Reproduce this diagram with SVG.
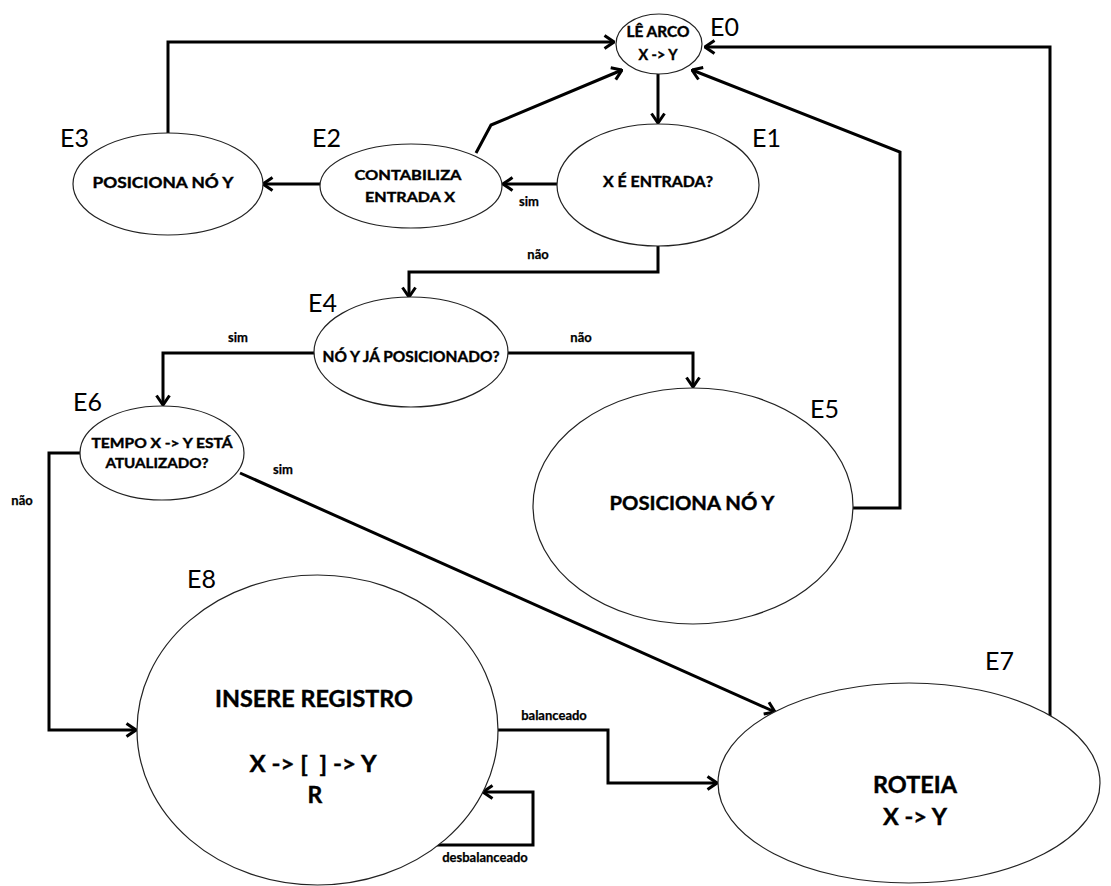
<svg xmlns="http://www.w3.org/2000/svg" width="1111" height="886" viewBox="0 0 1111 886">
  <defs>
    <marker id="arrow" viewBox="0 0 12 16" refX="11" refY="8" markerWidth="12" markerHeight="16" markerUnits="userSpaceOnUse" orient="auto">
      <path d="M1.5,1.5 L11,8 L1.5,14.5" fill="none" stroke="#000" stroke-width="3" stroke-linejoin="miter"/>
    </marker>
    <style>
      .state { fill: #fff; stroke: #222; stroke-width: 1.2; }
      .txt { font-family: Lato, "Liberation Sans", sans-serif; font-weight: bold; fill: #000; stroke: #000; stroke-width: 0.4; text-anchor: middle; }
      .tag { font-family: Lato, "Liberation Sans", sans-serif; font-size: 25px; fill: #000; }
      .lbl { font-family: Lato, "Liberation Sans", sans-serif; font-weight: bold; font-size: 13px; fill: #000; stroke: #000; stroke-width: 0.25; text-anchor: middle; }
      .edge { fill: none; stroke: #000; stroke-width: 3; marker-end: url(#arrow); }
    </style>
  </defs>
  <rect width="1111" height="886" fill="#fff"/>

  <!-- connectors and their labels -->
  <g id="connectors">
    <path class="edge" d="M168,133 L168,42 L614,42"/>
    <path class="edge" d="M476,153 L491,125 L622,70"/>
    <path class="edge" d="M658,74 L658,123"/>
    <path class="edge" d="M853,508 L900,508 L900,152 L692,70"/>
    <path class="edge" d="M1050,716 L1050,47 L705,47"/>
    <path class="edge" d="M557,184 L503,184"/>
    <path class="edge" d="M320,184 L263,184"/>
    <path class="edge" d="M658,246 L658,272 L409,272 L409,297"/>
    <path class="edge" d="M315,353 L163,353 L163,405"/>
    <path class="edge" d="M508,353 L693,353 L693,387"/>
    <path class="edge" d="M80,453 L49,453 L49,730 L136,730"/>
    <path class="edge" d="M240,473 L775,712"/>
    <path class="edge" d="M498,730 L608,730 L608,783 L717,783"/>
    <path class="edge" d="M433,845 L533,845 L533,792 L483,792"/>

    <text class="lbl" x="529" y="206">sim</text>
    <text class="lbl" x="538" y="259">não</text>
    <text class="lbl" x="238" y="342">sim</text>
    <text class="lbl" x="581" y="342">não</text>
    <text class="lbl" x="283" y="474">sim</text>
    <text class="lbl" x="22" y="505">não</text>
    <text class="lbl" x="554" y="720">balanceado</text>
    <text class="lbl" x="485" y="862">desbalanceado</text>
  </g>

  <g id="E0">
    <ellipse class="state" cx="659" cy="44" rx="43" ry="30"/>
    <text class="txt" x="658" y="37" font-size="14.5" textLength="63" lengthAdjust="spacingAndGlyphs">LÊ ARCO</text>
    <text class="txt" x="658" y="60" font-size="14.5" textLength="39" lengthAdjust="spacingAndGlyphs">X -&gt; Y</text>
    <text class="tag" x="710" y="36">E0</text>
  </g>

  <g id="E1">
    <ellipse class="state" cx="658" cy="185" rx="101" ry="61"/>
    <text class="txt" x="658" y="187" font-size="15.5" textLength="110" lengthAdjust="spacingAndGlyphs">X É ENTRADA?</text>
    <text class="tag" x="752" y="147">E1</text>
  </g>

  <g id="E2">
    <ellipse class="state" cx="411" cy="186" rx="91" ry="42"/>
    <text class="txt" x="408" y="180" font-size="14" textLength="107" lengthAdjust="spacingAndGlyphs">CONTABILIZA</text>
    <text class="txt" x="410" y="202" font-size="14" textLength="90" lengthAdjust="spacingAndGlyphs">ENTRADA X</text>
    <text class="tag" x="312" y="147">E2</text>
  </g>

  <g id="E3">
    <ellipse class="state" cx="168" cy="184" rx="95" ry="51"/>
    <text class="txt" x="163" y="188" font-size="16" textLength="141" lengthAdjust="spacingAndGlyphs">POSICIONA NÓ Y</text>
    <text class="tag" x="60" y="147">E3</text>
  </g>

  <g id="E4">
    <ellipse class="state" cx="411" cy="352" rx="97" ry="55"/>
    <text class="txt" x="411" y="362" font-size="16" textLength="177" lengthAdjust="spacingAndGlyphs">NÓ Y JÁ POSICIONADO?</text>
    <text class="tag" x="308" y="312">E4</text>
  </g>

  <g id="E5">
    <ellipse class="state" cx="693" cy="506" rx="160" ry="118"/>
    <text class="txt" x="692" y="510" font-size="19.5" textLength="165" lengthAdjust="spacingAndGlyphs">POSICIONA NÓ Y</text>
    <text class="tag" x="810" y="418">E5</text>
  </g>

  <g id="E6">
    <ellipse class="state" cx="162" cy="453" rx="82" ry="47"/>
    <text class="txt" x="162" y="448" font-size="14" textLength="141" lengthAdjust="spacingAndGlyphs">TEMPO X -&gt; Y ESTÁ</text>
    <text class="txt" x="157" y="468" font-size="14" textLength="103" lengthAdjust="spacingAndGlyphs">ATUALIZADO?</text>
    <text class="tag" x="73" y="411">E6</text>
  </g>

  <g id="E7">
    <ellipse class="state" cx="909" cy="783" rx="191" ry="100"/>
    <text class="txt" x="915" y="793" font-size="23" textLength="84" lengthAdjust="spacingAndGlyphs">ROTEIA</text>
    <text class="txt" x="915" y="825" font-size="23" textLength="64" lengthAdjust="spacingAndGlyphs">X -&gt; Y</text>
    <text class="tag" x="985" y="670">E7</text>
  </g>

  <g id="E8">
    <ellipse class="state" cx="317.5" cy="730" rx="180.5" ry="155"/>
    <text class="txt" x="314" y="707" font-size="23" textLength="198" lengthAdjust="spacingAndGlyphs">INSERE REGISTRO</text>
    <text class="txt" x="313" y="772" font-size="23" textLength="127" lengthAdjust="spacingAndGlyphs">X -&gt; [&#160;&#160;] -&gt; Y</text>
    <text class="txt" x="315" y="803" font-size="23">R</text>
    <text class="tag" x="187" y="588">E8</text>
  </g>
</svg>
